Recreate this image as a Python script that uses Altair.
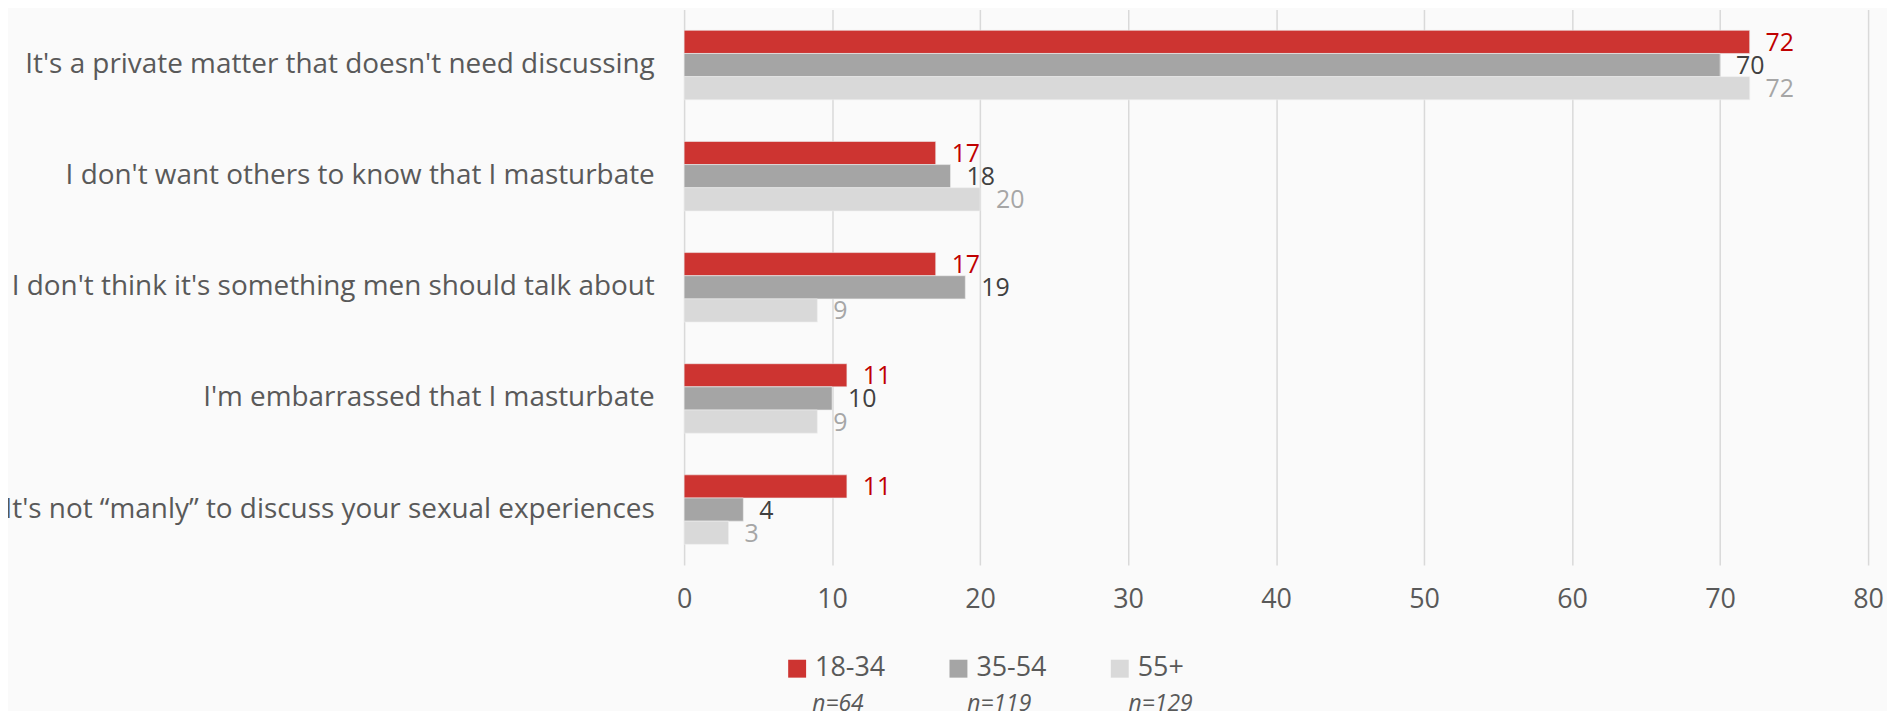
import altair as alt
import pandas as pd

categories = [
    "It's a private matter that doesn't need discussing",
    "I don't want others to know that I masturbate",
    "I don't think it's something men should talk about",
    "I'm embarrassed that I masturbate",
    "It's not \u201cmanly\u201d to discuss your sexual experiences",
]
groups = ["18-34", "35-54", "55+"]
group_n = ["n=64", "n=119", "n=129"]
values_18_34 = [72, 17, 17, 11, 11]
values_35_54 = [70, 18, 19, 10, 4]
values_55p = [72, 20, 9, 9, 3]

bar_colors = ["#CD3431", "#A5A5A5", "#D9D9D9"]
label_colors = ["#C00000", "#404040", "#A6A6A6"]

rows = []
for g, vals, lc in zip(groups, [values_18_34, values_35_54, values_55p], label_colors):
    for c, v in zip(categories, vals):
        rows.append({"category": c, "group": g, "value": v, "labelColor": lc})
df = pd.DataFrame(rows)
legend_df = pd.DataFrame({"group": groups, "n": group_n})

FONT = "Open Sans"
W, H = 1189, 558

x_scale = alt.Scale(domain=[0, 80], nice=False)
x_axis = alt.Axis(values=list(range(0, 81, 10)), grid=True, gridColor="#D9D9D9",
                  gridWidth=1.5, ticks=False, domain=False, labelFontSize=27,
                  labelColor="#595959", labelFont=FONT, labelPadding=22,
                  labelFlush=False, labelOverlap=False)
y_enc = alt.Y("category:N", sort=categories, title=None,
              scale=alt.Scale(paddingInner=0.375, paddingOuter=0.1875),
              axis=alt.Axis(labelFontSize=28, labelColor="#595959", labelFont=FONT,
                            ticks=False, domain=False, labelPadding=30, labelLimit=1000))
yoff = alt.YOffset("group:N", sort=groups, scale=alt.Scale(paddingInner=0, paddingOuter=0))
color_enc = alt.Color("group:N", scale=alt.Scale(domain=groups, range=bar_colors), legend=None)

bars = alt.Chart(df).mark_bar(stroke="#EEEEEE", strokeWidth=0.6).encode(
    x=alt.X("value:Q", title=None, scale=x_scale, axis=x_axis),
    y=y_enc,
    yOffset=yoff,
    color=color_enc,
)

texts = alt.Chart(df).mark_text(align="left", baseline="middle", dx=16, dy=1,
                                fontSize=25, font=FONT).encode(
    x=alt.X("value:Q", title=None, scale=x_scale, axis=x_axis),
    y=y_enc,
    yOffset=yoff,
    text="value:Q",
    color=alt.Color("labelColor:N", scale=None),
)

main = alt.layer(bars, texts)

lx = alt.X("group:N", sort=groups, axis=None,
           scale=alt.Scale(type="point", domain=groups, range=[113.5, 437.5], padding=0))

leg_sq = alt.Chart(legend_df).mark_square(size=324, opacity=1).encode(
    x=lx, y=alt.value(662), color=color_enc)
leg_lab = alt.Chart(legend_df).mark_text(align="left", baseline="middle", dx=18,
                                         fontSize=27, font=FONT, color="#595959").encode(
    x=lx, y=alt.value(661), text="group:N")
leg_n = alt.Chart(legend_df).mark_text(align="center", baseline="middle", dx=41,
                                       fontSize=23, font=FONT, fontStyle="italic",
                                       color="#595959").encode(
    x=lx, y=alt.value(697), text="n:N")
legend = alt.layer(leg_sq, leg_lab, leg_n)

chart = alt.layer(main, legend).resolve_scale(
    x="independent"
).properties(
    width=W, height=H,
    autosize=alt.AutoSizeParams(type="none"),
    padding={"left": 679, "top": 0, "right": 19, "bottom": 145},
    background="#FAFAFA",
).configure_view(stroke=None)

chart.save("out.html", embed_options={"renderer": "svg", "actions": False})
